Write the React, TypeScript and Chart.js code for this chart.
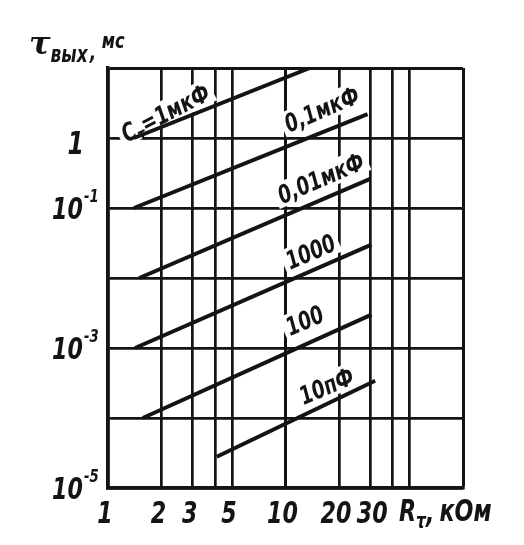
import React, { useEffect, useRef } from "react";
import { Chart, registerables } from "chart.js";
Chart.register(...registerables);

// ---- axes ----
const X_MIN = 1;
const X_MAX = 100;
const Y_MIN = 1e-5;
const Y_MAX = 10;
const xGridValues = [1, 2, 3, 4, 5, 10, 20, 30, 40, 50, 100];
const xTickValues = [1, 2, 3, 5, 10, 20, 30];
const xTickLabels = ["1", "2", "3", "5", "10", "20", "30"];
const yGridValues = [1e-5, 1e-4, 1e-3, 1e-2, 1e-1, 1, 10];
const yTickValues = [1, 1e-1, 1e-3, 1e-5];
const yTickBases = ["1", "10", "10", "10"];
const yTickExps = ["", "-1", "-3", "-5"];

// ---- series: R (kOhm) vs tau (ms) ----
const rC1u = [1.4, 13.7];
const tauC1u = [1, 10];
const rC01u = [1.4, 29];
const tauC01u = [0.1, 2.2];
const rC001u = [1.5, 30];
const tauC001u = [0.01, 0.26];
const rC1000p = [1.42, 30.5];
const tauC1000p = [0.001, 0.03];
const rC100p = [1.57, 30.5];
const tauC100p = [1e-4, 3e-3];
const rC10p = [4.1, 32];
const tauC10p = [2.8e-5, 3.4e-4];

const seriesR = [rC1u, rC01u, rC001u, rC1000p, rC100p, rC10p];
const seriesTau = [tauC1u, tauC01u, tauC001u, tauC1000p, tauC100p, tauC10p];

// ---- curve labels ----
const labelMain = ["C", "0,1мкФ", "0,01мкФ", "1000", "100", "10пФ"];
const labelSub = ["τ", "", "", "", "", ""];
const labelTail = ["=1мкФ", "", "", "", "", ""];
const labelR = [2.1, 16, 15.8, 13.8, 12.8, 17];
const labelTau = [2.3, 2.6, 0.27, 0.024, 0.0025, 2.9e-4];

const FAMILY = "'DejaVu Sans',sans-serif";
const INK = "#141414";
const SQ = 0.74; // horizontal condensing of lettering
const LABEL_SIZE = 25;
const SUB_SIZE = 17;

function fnt(size: number) {
  return `italic bold ${size}px ${FAMILY}`;
}

function tw(ctx: CanvasRenderingContext2D, text: string, size: number) {
  ctx.font = fnt(size);
  return ctx.measureText(text).width * SQ;
}

// draw condensed text with left/right/center alignment
function txt(ctx: CanvasRenderingContext2D, text: string, x: number, y: number, size: number, align: string = "left") {
  const w = tw(ctx, text, size);
  let x0 = x;
  if (align === "center") x0 = x - w / 2;
  else if (align === "right") x0 = x - w;
  ctx.save();
  ctx.translate(x0, y);
  ctx.scale(SQ, 1);
  ctx.font = fnt(size);
  ctx.textAlign = "left";
  ctx.textBaseline = "alphabetic";
  ctx.fillText(text, 0, 0);
  ctx.restore();
  return w;
}

function labelWidth(ctx: CanvasRenderingContext2D, i: number) {
  return tw(ctx, labelMain[i], LABEL_SIZE) + tw(ctx, labelTail[i], LABEL_SIZE) + tw(ctx, labelSub[i], SUB_SIZE);
}

function labelAngle(chart: any, i: number) {
  const xs = chart.scales.x;
  const ys = chart.scales.y;
  const dx = xs.getPixelForValue(10) - xs.getPixelForValue(1);
  const dy = ys.getPixelForValue(0.1) - ys.getPixelForValue(1);
  return Math.atan2(dy, dx) + (i === 0 ? 0.1 : 0.03);
}

const decor = {
  id: "decor",
  beforeDraw(chart: any) {
    const ctx = chart.ctx;
    ctx.save();
    ctx.fillStyle = "#ffffff";
    ctx.fillRect(0, 0, chart.width, chart.height);
    ctx.restore();
  },
  beforeDatasetsDraw(chart: any) {
    const ctx = chart.ctx;
    const xs = chart.scales.x;
    const ys = chart.scales.y;
    ctx.save();
    ctx.fillStyle = "#ffffff";
    for (let i = 0; i < labelMain.length; i++) {
      const cx = xs.getPixelForValue(labelR[i]);
      const cy = ys.getPixelForValue(labelTau[i]);
      const w = labelWidth(ctx, i) + 8;
      const h = LABEL_SIZE * 1.0;
      ctx.save();
      ctx.translate(cx, cy);
      ctx.rotate(-labelAngle(chart, i));
      ctx.fillRect(-w / 2, -h / 2, w, h);
      ctx.restore();
    }
    ctx.restore();
  },
  afterDatasetsDraw(chart: any) {
    const ctx = chart.ctx;
    const xs = chart.scales.x;
    const ys = chart.scales.y;
    ctx.save();
    ctx.fillStyle = INK;
    for (let i = 0; i < labelMain.length; i++) {
      const cx = xs.getPixelForValue(labelR[i]);
      const cy = ys.getPixelForValue(labelTau[i]);
      const w = labelWidth(ctx, i);
      ctx.save();
      ctx.translate(cx, cy);
      ctx.rotate(-labelAngle(chart, i));
      let x = -w / 2;
      const base = LABEL_SIZE * 0.36;
      x += txt(ctx, labelMain[i], x, base, LABEL_SIZE);
      if (labelSub[i]) x += txt(ctx, labelSub[i], x, base + 5, SUB_SIZE);
      if (labelTail[i]) txt(ctx, labelTail[i], x, base, LABEL_SIZE);
      ctx.restore();
    }
    ctx.restore();
  },
  afterDraw(chart: any) {
    const ctx = chart.ctx;
    const xs = chart.scales.x;
    const ys = chart.scales.y;
    const area = chart.chartArea;
    ctx.save();
    ctx.fillStyle = INK;

    // x tick labels
    const xb = area.bottom + 35;
    const last = xTickValues.length - 1;
    for (let i = 0; i < xTickValues.length; i++) {
      const nudge = i === last ? 2 : -3;
      txt(ctx, xTickLabels[i], xs.getPixelForValue(xTickValues[i]) + nudge, xb, 30, "center");
    }
    // x axis title: R_tau, кОм
    let tx = 399;
    tx += txt(ctx, "R", tx, xb - 2, 30);
    tx += txt(ctx, "τ", tx, xb + 5, 21);
    tx += txt(ctx, ",", tx, xb, 30);
    tx += 5;
    txt(ctx, "кОм", tx, xb - 2, 30);

    // y tick labels
    for (let i = 0; i < yTickValues.length; i++) {
      const py = ys.getPixelForValue(yTickValues[i]);
      const rx = area.left - 25;
      if (yTickExps[i]) {
        txt(ctx, yTickBases[i], rx, py + 11, 30, "right");
        txt(ctx, yTickExps[i], rx + 1, py - 6, 18, "left");
      } else {
        txt(ctx, yTickBases[i], rx + 1, py + 16, 32, "right");
      }
    }

    // y axis title: tau_вых, мс
    ctx.save();
    ctx.font = "italic bold 32px 'DejaVu Serif',serif";
    ctx.textAlign = "left";
    ctx.textBaseline = "alphabetic";
    ctx.fillText("τ", 29, 54);
    let ax = 29 + ctx.measureText("τ").width;
    ctx.restore();
    ax += txt(ctx, "вых", ax, 62, 23);
    txt(ctx, ",", ax + 2, 60, 23);
    txt(ctx, "мс", ax + 14, 48, 22);
    ctx.restore();
  },
};

export default function App() {
  const ref = useRef<HTMLCanvasElement>(null);
  useEffect(() => {
    if (!ref.current) return;
    const datasets = seriesR.map((rs, k) => ({
      label: labelMain[k] + labelSub[k] + labelTail[k],
      data: rs.map((r, j) => ({ x: r, y: seriesTau[k][j] })),
      borderColor: INK,
      backgroundColor: INK,
      borderWidth: 4,
      pointRadius: 0,
      tension: 0,
      fill: false,
    }));
    const gridWidth = (c: any) => {
      const v = c.tick && c.tick.value;
      return v === X_MAX || v === Y_MAX ? 3 : 2.7;
    };
    const chart = new Chart(ref.current, {
      type: "line",
      data: { datasets },
      options: {
        responsive: false,
        animation: false,
        devicePixelRatio: 1,
        layout: { padding: { left: 108, top: 68, right: 61, bottom: 57 } },
        plugins: {
          legend: { display: false },
          tooltip: { enabled: false },
          title: { display: false },
        },
        scales: {
          x: {
            type: "logarithmic",
            min: X_MIN,
            max: X_MAX,
            afterBuildTicks: (s: any) => {
              s.ticks = xGridValues.map((v) => ({ value: v }));
            },
            ticks: { display: false },
            grid: { color: INK, lineWidth: gridWidth, drawTicks: false },
            border: { color: INK, width: 3.5 },
          },
          y: {
            type: "logarithmic",
            min: Y_MIN,
            max: Y_MAX,
            afterBuildTicks: (s: any) => {
              s.ticks = yGridValues.map((v) => ({ value: v }));
            },
            ticks: { display: false },
            grid: { color: INK, lineWidth: gridWidth, drawTicks: false },
            border: { color: INK, width: 3.5 },
          },
        },
      } as any,
      plugins: [decor],
    });
    return () => chart.destroy();
  }, []);
  return (
    <div style={{ position: "absolute", left: 0, top: 0, width: 524, height: 545, background: "#fff" }}>
      <canvas ref={ref} width={524} height={545} />
    </div>
  );
}
